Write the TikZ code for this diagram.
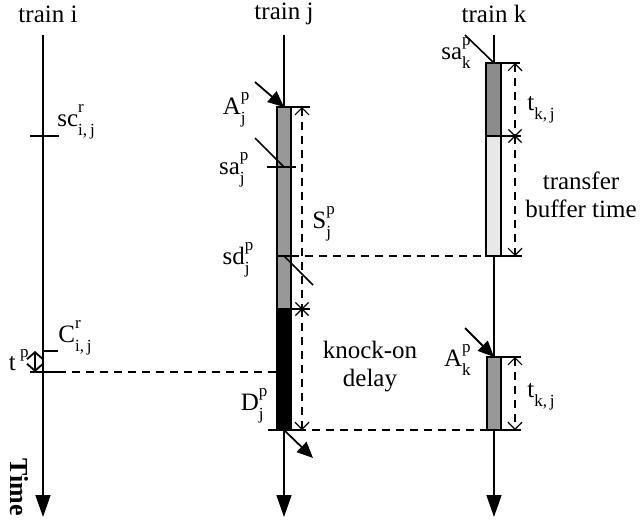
\documentclass[tikz,border=0pt]{standalone}
\usepackage{fontspec}
\setmainfont{Liberation Serif}
\usetikzlibrary{arrows.meta,positioning,shapes.misc}
\definecolor{bargray}{RGB}{152,152,152}
\definecolor{bardark}{RGB}{140,140,140}
\definecolor{barlight}{RGB}{232,232,232}
\tikzset{
    dimtip/.tip={Straight Barb[length=3.5pt, width=7pt]},
    gaptip/.tip={Straight Barb[length=3.5pt, width=8pt, line width=0.9pt]}
}
% symbol with raised and lowered indices
\newcommand{\scr}[1]{{\fontsize{8.5}{9}\selectfont #1}}
\newcommand{\tlab}[3]{#1\rlap{\raisebox{0.55em}{\scr{#2}}}\raisebox{-0.35em}{\scr{#3}}}

\begin{document}
\begin{tikzpicture}[
    x=0.5pt, y=-0.5pt,
    font=\fontsize{12.5}{14}\selectfont,
    track/.style={line width=0.8pt, -{Triangle[length=11pt, width=7.5pt]}},
    bar/.style={draw, line width=0.8pt},
    tick/.style={line width=0.8pt},
    dim/.style={line width=0.6pt, dash pattern=on 4pt off 3pt},
    event/.style={line width=0.9pt, -{Triangle[length=8pt, width=7pt]}},
    star/.style={cross out, draw, line width=0.6pt, minimum size=6pt, inner sep=0pt},
    lbl/.style={inner sep=1pt}
]
\useasboundingbox (0,0) rectangle (643,520);

% train headings
\node (trainI) at (48,14) {train i};
\node (trainJ) at (284,14) {train j};
\node (trainK) at (494,14) {train k};

% time lines
\coordinate (iTop) at (43,35);   \coordinate (iEnd) at (43,517);
\coordinate (jTop) at (284,35);  \coordinate (jEnd) at (284,517);
\coordinate (kTop) at (494,35);  \coordinate (kEnd) at (494,517);
\draw[track] (iTop) -- (iEnd);
\draw[track] (jTop) -- (jEnd);
\draw[track] (kTop) -- (kEnd);
\node[font=\fontsize{13}{13}\selectfont\bfseries, rotate=-90] (time) at (19,487) {Time};

% dwell bars
\draw[bar, fill=bargray] (277,107) rectangle (291,309);
\draw[bar, fill=black] (277,309) rectangle (291,430);
\draw[bar, fill=bardark] (486,63) rectangle (501,136);
\draw[bar, fill=barlight] (486,136) rectangle (501,256);
\draw[bar, fill=bargray] (487,357) rectangle (501,430);

% named event points
\coordinate (Aj) at (284,107);
\coordinate (saj) at (284,167);
\coordinate (sdj) at (284,256);
\coordinate (Sj) at (284,309);
\coordinate (Dj) at (284,430);
\coordinate (sak) at (494,63);
\coordinate (tk) at (494,136);
\coordinate (bk) at (494,256);
\coordinate (Ak) at (494,357);
\coordinate (Dk) at (494,430);
\coordinate (sci) at (43,136);
\coordinate (Ci) at (43,351);
\coordinate (tpi) at (43,372);

% train i
\draw[tick] (30,136) -- (59,136);
\node[lbl, anchor=west] (scLbl) at (55,122) {\tlab{sc}{r}{i,\,j}};
\draw[tick] (Ci) -- (58,351);
\node[lbl, anchor=west] (CLbl) at (56,338) {\tlab{C}{r}{i,\,j}};
\draw[tick] (30,372) -- (58,372);
\draw[dim] (58,372) -- (277,372);
\draw[line width=0.9pt, gaptip-gaptip] (35,351) -- (35,372);
\node[lbl, anchor=east] (tpLbl) at (31,360) {t\,\raisebox{0.55em}{\scr{p}}};

% train j
\draw[event] (255,82) -- (Aj);
\node[lbl, anchor=east] (AjLbl) at (248,110) {\tlab{A}{p}{j}};
\draw[tick] (267,167) -- (296,167);
\draw[tick] (255,138) -- (saj);
\node[lbl, anchor=east] (sajLbl) at (247,170) {\tlab{sa}{p}{j}};
\draw[tick] (277,256) -- (291,256);
\draw[tick] (sdj) -- (313,285);
\node[lbl, anchor=east] (sdjLbl) at (252,260) {\tlab{sd}{p}{j}};
\draw[dim] (291,256) -- (486,256);
\draw[tick] (Aj) -- (310,107);
\draw[dim, dimtip-] (302,107) -- (302,309);
\draw[tick] (291,309) -- (310,309);
\node[star] (SjStar) at (302,309) {};
\node[lbl, anchor=west] (SjLbl) at (310,224) {\tlab{S}{p}{j}};
\draw[dim, -dimtip] (302,309) -- (302,430);
\node[lbl, align=center] (delayLbl) at (370,367) {knock-on\\delay};
\draw[tick] (268,430) -- (298,430);
\draw[dim] (298,430) -- (487,430);
\node[lbl, anchor=east] (DjLbl) at (266,406) {\tlab{D}{p}{j}};
\draw[event] (Dj) -- (313,458);

% train k
\draw[tick] (465,35) -- (sak);
\node[lbl, anchor=east] (sakLbl) at (473,53) {\tlab{sa}{p}{k}};
\draw[tick] (sak) -- (520,63);
\draw[dim, dimtip-] (515,63) -- (515,136);
\draw[tick] (501,136) -- (521,136);
\node[star] (tkStar) at (515,136) {};
\node[lbl, anchor=west] (tkLbl) at (525,110) {t\raisebox{-0.35em}{\scr{k,\,j}}};
\draw[dim, -dimtip] (515,136) -- (515,256);
\draw[tick] (501,256) -- (522,256);
\node[lbl, align=center] (bufLbl) at (581,195) {transfer\\buffer time};
\draw[event] (465,328) -- (Ak);
\node[lbl, anchor=east] (AkLbl) at (473,360) {\tlab{A}{p}{k}};
\draw[tick] (Ak) -- (521,357);
\draw[dim, dimtip-dimtip] (515,357) -- (515,430);
\draw[tick] (501,430) -- (521,430);
\node[lbl, anchor=west] (tk2Lbl) at (525,397) {t\raisebox{-0.35em}{\scr{k,\,j}}};
\end{tikzpicture}
\end{document}
